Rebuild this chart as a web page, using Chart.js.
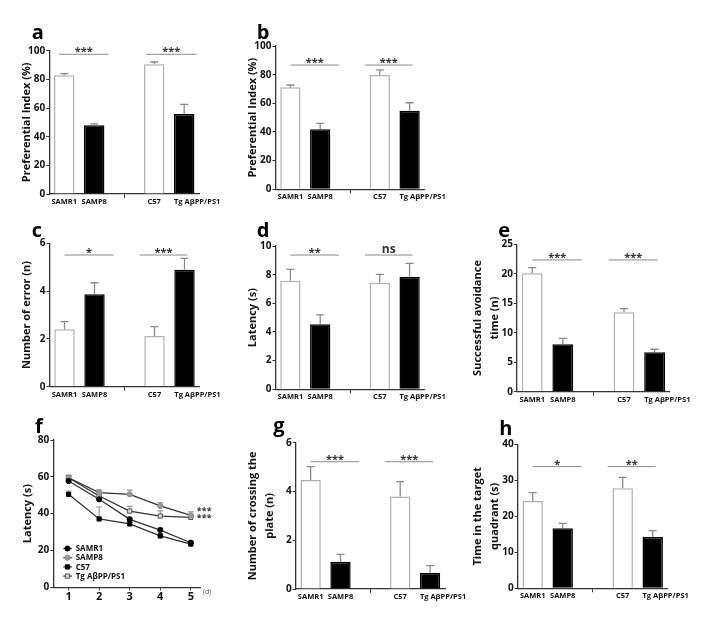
<!DOCTYPE html>
<html>
<head>
<meta charset="utf-8">
<script src="https://cdn.jsdelivr.net/npm/chart.js@4.4.1/dist/chart.umd.min.js"></script>
<style>
  body { margin: 0; background: #fff; }
  #fig { position: relative; width: 710px; height: 622px; overflow: hidden; background: #fff; }
  #fig canvas { position: absolute; }
</style>
</head>
<body>
<div id="fig"></div>
<script>
// groups on every bar panel, the empty one is the gap between strains
const groups = ['SAMR1', 'SAMP8', '', 'C57', 'Tg AβPP/PS1'];

// a, b: preferential index (%)
const prefA = [82.8, 47.9, null, 90.5, 55.8];
const prefAErr = [1.2, 1.0, null, 1.6, 6.8];
const prefB = [71.2, 41.9, null, 79.8, 54.9];
const prefBErr = [1.6, 4.1, null, 3.5, 5.5];
// c: number of error (n)
const errorsC = [2.40, 3.87, null, 2.12, 4.89];
const errorsCErr = [0.32, 0.48, null, 0.39, 0.48];
// d: latency (s)
const latencyD = [7.58, 4.54, null, 7.44, 7.86];
const latencyDErr = [0.79, 0.65, null, 0.58, 0.93];
// e: successful avoidance time (n)
const avoidE = [20.1, 8.04, null, 13.47, 6.69];
const avoidEErr = [0.95, 1.02, null, 0.62, 0.51];
// g: number of crossing the plate (n)
const crossG = [4.47, 1.12, null, 3.79, 0.67];
const crossGErr = [0.55, 0.30, null, 0.61, 0.29];
// h: time in the target quadrant (s)
const quadH = [24.25, 16.67, null, 27.78, 14.25];
const quadHErr = [2.31, 1.39, null, 3.05, 1.75];

// significance marks (label pairs + level in axis units)
const sigA = ['***', '***']; const sigALevel = 97.5;
const sigB = ['***', '***']; const sigBLevel = 86.7;
const sigC = ['*', '***'];   const sigCLevel = 5.51;
const sigD = ['**', 'ns'];   const sigDLevel = 9.37;
const sigE = ['***', '***']; const sigELevel = 22.35;
const sigG = ['***', '***']; const sigGLevel = 5.22;
const sigH = ['*', '**'];    const sigHLevel = 33.8;

// f: latency over days
const days = [1, 2, 3, 4, 5];
const latSAMR1 = [57.7, 47.8, 36.9, 31.1, 24.2];
const latSAMP8 = [59.5, 51.4, 50.5, 44.2, 39.0];
const latC57 = [50.5, 37.1, 34.4, 27.9, 23.5];
const latTg = [59.5, 49.6, 41.4, 38.7, 38.0];
const latSAMR1Err = [1.2, 1.5, 1.2, 1.0, 1.0];
const latSAMP8Err = [1.5, 1.5, 2.3, 1.8, 2.0];
const latC57Err = [1.8, 6.5, 1.0, 1.0, 1.0];
const latTgErr = [1.0, 1.5, 2.5, 2.8, 1.5];
const sigF = ['***', '***'];

const FONT = '"Open Sans", Lato, sans-serif';
Chart.defaults.font.family = FONT;
Chart.defaults.color = '#111';

const fig = document.getElementById('fig');
const barFill = ['#ffffff', '#000000', null, '#ffffff', '#000000'];
const barEdge = ['#b0b0b0', '#000000', null, '#b0b0b0', '#000000'];
const labelAlign = ['center', 'center', 'center', 'center', 'left'];
const titleSize = 11, titleLH = 1.52;

function addCanvas(box) {
  const cv = document.createElement('canvas');
  cv.width = box[2]; cv.height = box[3];
  cv.style.left = box[0] + 'px'; cv.style.top = box[1] + 'px';
  cv.style.width = box[2] + 'px'; cv.style.height = box[3] + 'px';
  fig.appendChild(cv);
  return cv;
}

function drawLetter(ctx, p) {
  ctx.save();
  ctx.font = 'bold 20px ' + FONT;
  ctx.fillStyle = '#000';
  ctx.textAlign = 'left';
  ctx.textBaseline = 'alphabetic';
  ctx.fillText(p.id, p.letter[0] - p.box[0], p.letter[1] - p.box[1]);
  ctx.restore();
}

function frame(p) {
  const L = p.area[0] - p.box[0], T = p.area[1] - p.box[1];
  const R = p.box[0] + p.box[2] - p.area[2], B = p.box[1] + p.box[3] - p.area[3];
  const titlePad = p.titleX - p.box[0] - titleSize * titleLH / 2;
  return { L, T, R, B, titlePad };
}

function yScale(p, f) {
  return {
    min: 0, max: p.max,
    afterFit: s => { s.width = f.L; },
    ticks: { stepSize: p.step, font: { size: 10, weight: 'bold' }, padding: 1, color: '#111' },
    grid: { drawOnChartArea: false, drawTicks: true, tickLength: 3, color: '#333' },
    border: { display: true, color: '#333', width: 1.3 },
    title: {
      display: true, text: p.title, color: '#111',
      font: { size: titleSize, weight: 'bold', lineHeight: titleLH },
      padding: { top: f.titlePad, bottom: 0 }
    }
  };
}

function barPanel(p) {
  const cv = addCanvas(p.box);
  const f = frame(p);
  new Chart(cv, {
    type: 'bar',
    data: {
      labels: groups,
      datasets: [{
        data: p.values,
        backgroundColor: barFill,
        borderColor: barEdge,
        borderWidth: 1.5,
        barPercentage: 0.68,
        categoryPercentage: 1
      }]
    },
    options: {
      responsive: false,
      animation: false,
      layout: { autoPadding: false, padding: { left: 0, top: f.T, right: f.R, bottom: 0 } },
      plugins: { legend: { display: false }, tooltip: { enabled: false } },
      scales: {
        x: {
          offset: true,
          afterFit: s => { s.height = f.B; },
          ticks: { display: false, autoSkip: false },
          grid: { offset: false, drawOnChartArea: false, tickLength: 4,
                  color: c => c.index === 2 ? '#333' : 'rgba(0,0,0,0)' },
          border: { display: true, color: '#333', width: 1.3 }
        },
        y: yScale(p, f)
      }
    },
    plugins: [{
      id: 'marks',
      afterDatasetsDraw(chart) {
        const { ctx } = chart;
        const ys = chart.scales.y;
        const meta = chart.getDatasetMeta(0);
        ctx.save();
        ctx.lineWidth = 1.3;
        ctx.strokeStyle = '#8a8a8a';
        meta.data.forEach((bar, i) => {
          if (p.values[i] == null || p.errs[i] == null) return;
          const yTop = ys.getPixelForValue(p.values[i] + p.errs[i]);
          ctx.beginPath();
          ctx.moveTo(bar.x, bar.y);
          ctx.lineTo(bar.x, yTop);
          ctx.moveTo(bar.x - 4, yTop);
          ctx.lineTo(bar.x + 4, yTop);
          ctx.stroke();
        });
        ctx.restore();
      },
      afterDraw(chart) {
        const { ctx } = chart;
        const xs = chart.scales.x, ys = chart.scales.y;
        const meta = chart.getDatasetMeta(0);
        ctx.save();
        // group labels under the bars
        ctx.font = 'bold 7.5px ' + FONT;
        ctx.fillStyle = '#111';
        ctx.textBaseline = 'middle';
        groups.forEach((g, i) => {
          if (!g) return;
          const bar = meta.data[i];
          ctx.textAlign = labelAlign[i];
          const x = labelAlign[i] === 'left' ? bar.x - bar.width / 2 : bar.x;
          ctx.fillText(g, x, xs.top + 8);
        });
        // significance lines
        const y = ys.getPixelForValue(p.sigLevel);
        p.spans.forEach((sp, k) => {
          const x0 = xs.getPixelForValue(sp[0]), x1 = xs.getPixelForValue(sp[1]);
          ctx.strokeStyle = '#8a8a8a';
          ctx.lineWidth = 1;
          ctx.beginPath();
          ctx.moveTo(x0, y);
          ctx.lineTo(x1, y);
          ctx.stroke();
          const lab = p.sig[k];
          ctx.fillStyle = '#333';
          ctx.textAlign = 'center';
          ctx.textBaseline = 'alphabetic';
          ctx.font = (lab === 'ns' ? 'bold 12px ' : 'bold 11px ') + FONT;
          ctx.fillText(lab, (x0 + x1) / 2, lab === 'ns' ? y - 2 : y + 1);
        });
        ctx.restore();
        drawLetter(ctx, p);
      }
    }]
  });
}

const spansAB = [[-0.17, 1.47], [2.73, 4.41]];
const spansStd = [[0.0, 1.63], [2.5, 4.1]];

barPanel({ id: 'a', box: [0, 0, 240, 215], area: [49.2, 50.7, 199.2, 194], titleX: 27,
  title: 'Preferential Index (%)', letter: [31.7, 39], max: 100, step: 20,
  values: prefA, errs: prefAErr, sig: sigA, sigLevel: sigALevel, spans: spansAB });
barPanel({ id: 'b', box: [230, 0, 250, 215], area: [275.5, 46, 424.5, 189.3], titleX: 253.3,
  title: 'Preferential Index (%)', letter: [256.7, 39], max: 100, step: 20,
  values: prefB, errs: prefBErr, sig: sigB, sigLevel: sigBLevel, spans: spansStd });
barPanel({ id: 'c', box: [0, 200, 240, 210], area: [49.5, 243.3, 199.5, 386.7], titleX: 27,
  title: 'Number of error (n)', letter: [31.7, 236.7], max: 6, step: 2,
  values: errorsC, errs: errorsCErr, sig: sigC, sigLevel: sigCLevel, spans: spansStd });
barPanel({ id: 'd', box: [230, 200, 250, 210], area: [275.5, 246, 424.5, 389.3], titleX: 253.3,
  title: 'Latency (s)', letter: [256.7, 236.7], max: 10, step: 2,
  values: latencyD, errs: latencyDErr, sig: sigD, sigLevel: sigDLevel, spans: spansStd });
barPanel({ id: 'e', box: [460, 200, 250, 210], area: [516.9, 244.3, 669.9, 391.7], titleX: 478.3,
  title: ['Successful avoidance', 'time (n)'], letter: [498.3, 236.7], max: 25, step: 5,
  values: avoidE, errs: avoidEErr, sig: sigE, sigLevel: sigELevel, spans: spansStd });
barPanel({ id: 'g', box: [230, 400, 250, 222], area: [295.7, 442.7, 445, 589], titleX: 253.3,
  title: ['Number of crossing the', 'plate (n)'], letter: [273.3, 431.7], max: 6, step: 2,
  values: crossG, errs: crossGErr, sig: sigG, sigLevel: sigGLevel, spans: spansStd });
barPanel({ id: 'h', box: [460, 400, 250, 222], area: [517.7, 444.3, 667.7, 588.3], titleX: 478.3,
  title: ['Time in the target', 'quadrant (s)'], letter: [499.3, 435], max: 40, step: 10,
  values: quadH, errs: quadHErr, sig: sigH, sigLevel: sigHLevel, spans: spansStd });

// panel f: line chart over days
(function linePanel() {
  const p = { id: 'f', box: [0, 400, 230, 222], area: [53.3, 440, 200, 587.3], titleX: 28.3,
    title: 'Latency (s)', letter: [35, 433.3], max: 80, step: 20 };
  const f = frame(p);
  const cv = addCanvas(p.box);
  const series = [
    { label: 'SAMR1', values: latSAMR1, errs: latSAMR1Err, style: 'circle', r: 2.6, fill: '#000', edge: '#000' },
    { label: 'SAMP8', values: latSAMP8, errs: latSAMP8Err, style: 'circle', r: 2.6, fill: '#9a9a9a', edge: '#8a8a8a' },
    { label: 'C57', values: latC57, errs: latC57Err, style: 'rect', r: 3, fill: '#000', edge: '#000' },
    { label: 'Tg AβPP/PS1', values: latTg, errs: latTgErr, style: 'rect', r: 3, fill: '#d8d8d8', edge: '#555' }
  ];
  new Chart(cv, {
    type: 'line',
    data: {
      datasets: series.map(s => ({
        label: s.label,
        data: days.map((d, i) => ({ x: d, y: s.values[i] })),
        borderColor: '#333',
        borderWidth: 1.3,
        pointStyle: s.style,
        pointRadius: s.r,
        pointBackgroundColor: s.fill,
        pointBorderColor: s.edge,
        pointBorderWidth: 1
      }))
    },
    options: {
      responsive: false,
      animation: false,
      layout: { autoPadding: false, padding: { left: 0, top: f.T, right: f.R, bottom: 0 } },
      plugins: { legend: { display: false }, tooltip: { enabled: false } },
      scales: {
        x: {
          type: 'linear', min: 0.5, max: 5.3,
          afterFit: s => { s.height = f.B; },
          afterBuildTicks: s => { s.ticks = days.map(v => ({ value: v })); },
          ticks: { font: { size: 11, weight: 'bold' }, padding: 0, color: '#111' },
          grid: { drawOnChartArea: false, tickLength: 3, color: '#333' },
          border: { display: true, color: '#333', width: 1.3 }
        },
        y: yScale(p, f)
      }
    },
    plugins: [{
      id: 'fmarks',
      beforeDatasetsDraw(chart) {
        const { ctx } = chart;
        const xs = chart.scales.x, ys = chart.scales.y;
        ctx.save();
        ctx.strokeStyle = '#9a9a9a';
        ctx.lineWidth = 1.2;
        series.forEach(s => {
          days.forEach((d, i) => {
            const x = xs.getPixelForValue(d);
            const y0 = ys.getPixelForValue(s.values[i]);
            const y1 = ys.getPixelForValue(s.values[i] + s.errs[i]);
            ctx.beginPath();
            ctx.moveTo(x, y0); ctx.lineTo(x, y1);
            ctx.moveTo(x - 3, y1); ctx.lineTo(x + 3, y1);
            ctx.stroke();
          });
        });
        ctx.restore();
      },
      afterDraw(chart) {
        const { ctx } = chart;
        const xs = chart.scales.x, ys = chart.scales.y;
        ctx.save();
        // legend inside plot, lower left
        ctx.font = 'bold 8px ' + FONT;
        ctx.textBaseline = 'middle';
        series.forEach((s, k) => {
          const ly = 548.5 - p.box[1] + k * 9.2;
          const lx = 63.3 - p.box[0];
          ctx.strokeStyle = '#333';
          ctx.lineWidth = 1.3;
          ctx.beginPath(); ctx.moveTo(lx, ly); ctx.lineTo(lx + 8.5, ly); ctx.stroke();
          ctx.fillStyle = s.fill; ctx.strokeStyle = s.edge; ctx.lineWidth = 1;
          Chart.helpers.drawPoint(ctx, { pointStyle: s.style, radius: s.r, rotation: 0, borderWidth: 1 }, lx + 4.2, ly);
          ctx.fillStyle = '#111';
          ctx.fillText(s.label, 75.7 - p.box[0], ly + 0.5);
        });
        // stars at day 5
        const sx = xs.getPixelForValue(5) + 6;
        ctx.font = 'bold 9px ' + FONT;
        ctx.fillStyle = '#333';
        ctx.textAlign = 'left';
        ctx.fillText(sigF[0], sx, ys.getPixelForValue(42.5) + 2);
        ctx.fillText(sigF[1], sx, ys.getPixelForValue(38.5) + 2);
        // unit of x
        ctx.font = '7px ' + FONT;
        ctx.fillStyle = '#555';
        ctx.fillText('(d)', xs.right + 3, ys.bottom + 5);
        ctx.restore();
        drawLetter(ctx, p);
      }
    }]
  });
})();
</script>
</body>
</html>
